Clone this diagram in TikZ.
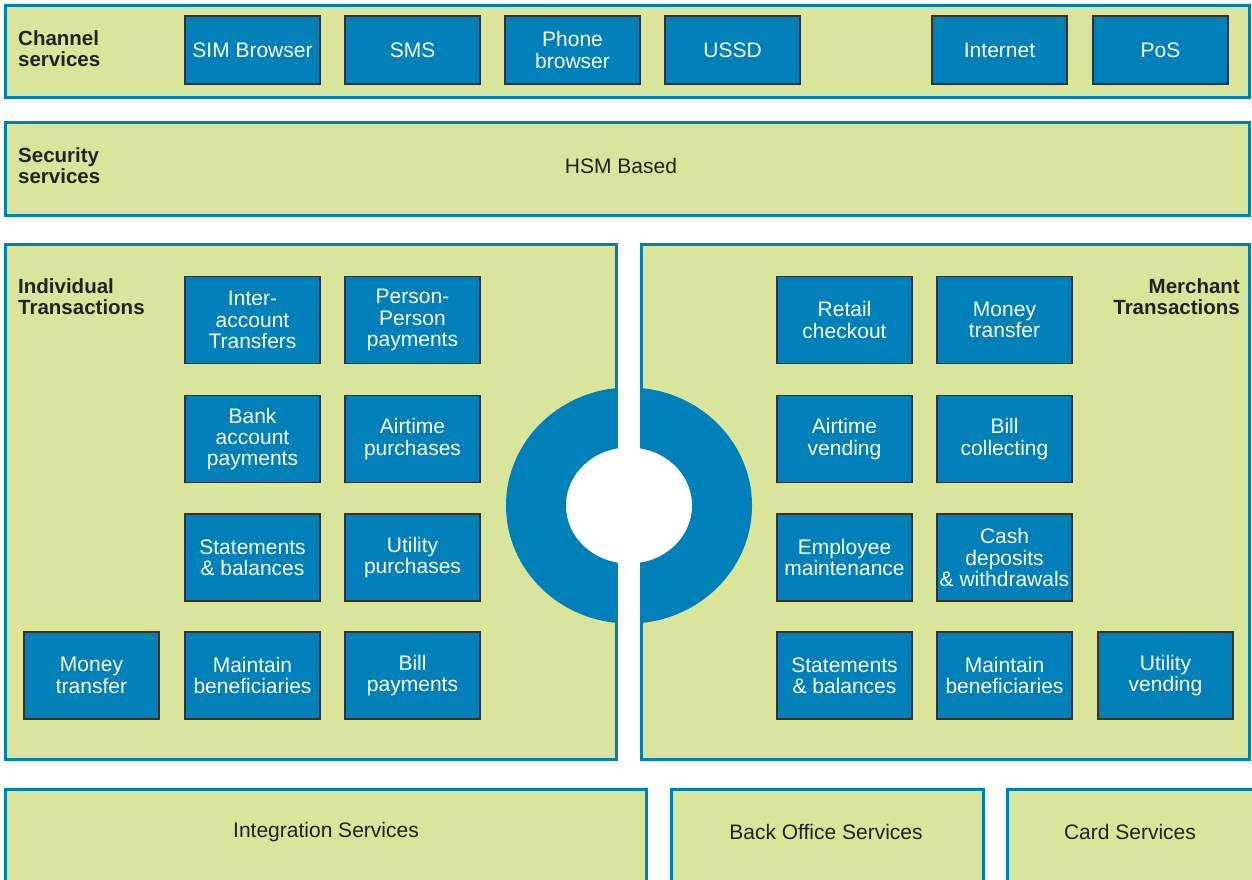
\documentclass[tikz,border=0pt]{standalone}
\usepackage{fontspec}
\setmainfont{Liberation Sans}
\definecolor{pgreen}{HTML}{D8E59A}
\definecolor{pblue}{HTML}{0080B8}
\definecolor{bdark}{HTML}{333333}
\definecolor{tdark}{HTML}{222222}
\begin{document}
\begin{tikzpicture}[x=1pt,y=-1pt,
  panel/.style={draw=pblue,line width=3pt,fill=pgreen},
  bbox/.style={draw=bdark,line width=1.5pt,fill=pblue,text=white,align=center,
    inner sep=0pt,minimum width=135pt,font=\fontsize{21}{21.3}\selectfont},
  cbox/.style={bbox,minimum height=68pt},
  tbox/.style={bbox,minimum height=87pt},
  ttl/.style={font=\bfseries\fontsize{20.5}{21}\selectfont,text=tdark,inner sep=0pt},
  lbl/.style={font=\fontsize{21}{21}\selectfont,text=tdark,inner sep=0pt}]
\useasboundingbox (0,0) rectangle (1252,879);
\clip (0,0) rectangle (1252,879);
\fill[white] (0,0) rectangle (1252,879);
% panels
\draw[panel] (5,5) rectangle (1249,97);
\draw[panel] (5,122) rectangle (1249,215);
\draw[panel] (5,244) rectangle (616,759);
\draw[panel] (641,244) rectangle (1249,759);
\draw[panel] (5,789) rectangle (646,900);
\draw[panel] (671,789) rectangle (983,900);
\draw[panel] (1007,789) rectangle (1260,900);
% ring
\fill[pblue] (629,505.5) ellipse [x radius=123,y radius=118];
\fill[white] (629,505.5) ellipse [x radius=63,y radius=58];
\fill[white] (618,380) rectangle (640,630);
% titles
\node[ttl,anchor=west,align=left] (tch) at (18,49) {Channel\\services};
\node[ttl,anchor=west,align=left] (tsec) at (18,166) {Security\\services};
\node[ttl,anchor=north west,align=left] (tind) at (18,278) {Individual\\Transactions};
\node[ttl,anchor=north east,align=right] (tmer) at (1240,278) {Merchant\\Transactions};
\node[lbl] (hsm) at (621,166) {HSM Based};
\node[lbl] (integ) at (326,832) {Integration Services};
\node[lbl] (back) at (826,832) {Back Office Services};
\node[lbl] (card) at (1130,832) {Card Services};
% channel boxes
\node[cbox] (sim) at (252.5,50) {SIM Browser};
\node[cbox] (sms) at (412.5,50) {SMS};
\node[cbox] (phone) at (572.5,50) {Phone\\browser};
\node[cbox] (ussd) at (732.5,50) {USSD};
\node[cbox] (inet) at (999.5,50) {Internet};
\node[cbox] (pos) at (1160.5,50) {PoS};
% individual
\node[tbox] (i11) at (252.5,320) {Inter-\\account\\Transfers};
\node[tbox] (i12) at (412.5,320) {Person-\\Person\\payments};
\node[tbox] (i21) at (252.5,439) {Bank\\account\\payments};
\node[tbox] (i22) at (412.5,439) {Airtime\\purchases};
\node[tbox] (i31) at (252.5,557.5) {Statements\\\& balances};
\node[tbox] (i32) at (412.5,557.5) {Utility\\purchases};
\node[tbox] (i40) at (91.5,675.5) {Money\\transfer};
\node[tbox] (i41) at (252.5,675.5) {Maintain\\beneficiaries};
\node[tbox] (i42) at (412.5,675.5) {Bill\\payments};
% merchant
\node[tbox] (m11) at (844.5,320) {Retail\\checkout};
\node[tbox] (m12) at (1004.5,320) {Money\\transfer};
\node[tbox] (m21) at (844.5,439) {Airtime\\vending};
\node[tbox] (m22) at (1004.5,439) {Bill\\collecting};
\node[tbox] (m31) at (844.5,557.5) {Employee\\maintenance};
\node[tbox] (m32) at (1004.5,557.5) {Cash\\deposits\\\& withdrawals};
\node[tbox] (m41) at (844.5,675.5) {Statements\\\& balances};
\node[tbox] (m42) at (1004.5,675.5) {Maintain\\beneficiaries};
\node[tbox] (m43) at (1165.5,675.5) {Utility\\vending};
\end{tikzpicture}
\end{document}
